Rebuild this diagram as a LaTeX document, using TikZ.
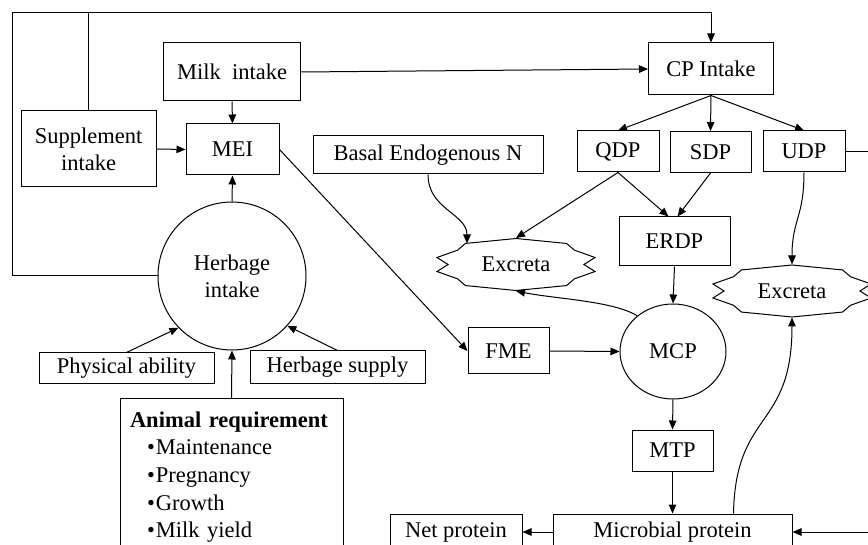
\documentclass[tikz,border=0pt]{standalone}
\usepackage{fontspec}
\setmainfont{Liberation Serif}
\usetikzlibrary{arrows.meta,shapes.geometric}

\begin{document}
\begin{tikzpicture}[x=1pt,y=-1pt,line width=1pt,
    >={Triangle[length=9pt,width=7.5pt]},
    every node/.style={font=\fontsize{22.5}{27}\selectfont},
    blk/.style={draw,inner sep=0pt,align=center},
    exc/.style={inner sep=0pt,minimum width=158,minimum height=52}]
      \useasboundingbox (0,0) rectangle (868,545);
      \clip (0,0) rectangle (868,545);

      \node[blk,minimum width=137,minimum height=58] (milk) at (232,72) {Milk~ intake};
      \node[blk,minimum width=125,minimum height=52] (cp) at (711,69) {CP Intake};
      \node[blk,minimum width=135,minimum height=76] (supp) at (88.5,149) {Supplement\\intake};
      \node[blk,minimum width=93,minimum height=51] (mei) at (232.5,149.5) {MEI};
      \node[draw,circle,minimum size=148,inner sep=0pt,align=center] (herb) at (232,276) {Herbage\\intake};
      \node[blk,minimum width=175,minimum height=31] (phys) at (126.5,368.5) {Physical ability};
      \node[blk,minimum width=175,minimum height=33] (hsup) at (337.5,367.5) {Herbage supply};
      \node[draw,anchor=north,text width=203pt,inner xsep=10pt,inner ysep=13pt,align=left,
        font=\fontsize{22.5}{27.7}\selectfont] (anim) at (231.5,398)
        {\textbf{Animal requirement}\\
         \hspace*{17pt}\textbullet\hspace{1pt}Maintenance\\
         \hspace*{17pt}\textbullet\hspace{1pt}Pregnancy\\
         \hspace*{17pt}\textbullet\hspace{1pt}Growth\\
         \hspace*{17pt}\textbullet\hspace{1pt}Milk yield};

      \node[blk,minimum width=230,minimum height=38] (basal) at (428,155) {Basal Endogenous N};
      \node[blk,minimum width=82,minimum height=41] (qdp) at (618,151.5) {QDP};
      \node[blk,minimum width=81,minimum height=41] (sdp) at (710.5,152) {SDP};
      \node[blk,minimum width=82,minimum height=41] (udp) at (804,151.5) {UDP};
      \node[blk,minimum width=111,minimum height=49] (erdp) at (674.5,241.5) {ERDP};
      \node[exc] (exL) at (516,264.5) {Excreta};
      \node[exc] (exR) at (792,291) {Excreta};
      \node[blk,minimum width=81,minimum height=46] (fme) at (508.5,351) {FME};
      \node[draw,ellipse,minimum width=106,minimum height=95,inner sep=0pt] (mcp) at (673,351.5) {MCP};
      \node[blk,minimum width=81,minimum height=41] (mtp) at (672.5,450.5) {MTP};
      \node[blk,minimum width=239,minimum height=36] (micro) at (672.5,532) {Microbial protein};
      \node[blk,minimum width=132,minimum height=36] (net) at (456,532) {Net protein};

      \foreach \n in {exL,exR}
        \draw[shift={(\n.center)},x=79pt,y=26pt] (0,1) -- (.64,.81) -- (.74,.55) -- (1,.27)
          -- (.86,0) -- (1,-.27) -- (.74,-.55) -- (.64,-.81) -- (0,-1) -- (-.64,-.81)
          -- (-.74,-.55) -- (-1,-.27) -- (-.86,0) -- (-1,.27) -- (-.74,.55) -- (-.64,.81) -- cycle;

      \coordinate (corner) at (12,13);
      \draw[->] (herb.west) -| (corner) -| (cp.north);
      \draw (supp.north) -- (supp.north |- corner);
      \draw[->] (milk.east) -- (cp.west);
      \draw[->] (milk.south) -- (mei.north);
      \draw[->] (supp.east) -- (mei.west);
      \draw[->] (herb.north) -- (mei.south);
      \draw[->] (phys.north) -- (herb.224);
      \draw[->] (hsup.north) -- (herb.318);
      \draw[->] (anim.north) -- (herb.south);
      \draw[->] (mei.east) -- (fme.west);

      \foreach \n in {qdp,sdp,udp}
        \draw[->] (cp.south) -- (\n.north);
      \draw[->] (qdp.south) -- (exL.north);
      \draw[->] (qdp.south) -- ([xshift=-6pt]erdp.north);
      \draw[->] (sdp.south) -- ([xshift=3pt]erdp.north);
      \draw[->] (basal.south) .. controls +(0,35) and +(0,-30) .. ([xshift=-49pt,yshift=21pt]exL.center);
      \draw[->] (mcp.135) .. controls +(-25,-15) and +(40,8) .. (exL.south);
      \draw[->] (udp.south) .. controls +(0,45) and +(0,-45) .. (exR.north);
      \draw[->] ([xshift=61pt]micro.north) .. controls +(2,-104) and +(0,113) .. (exR.south);

      \draw[->] (fme.east) -- (mcp.west);
      \draw[->] (erdp.south) -- (mcp.north);
      \draw[->] (mcp.south) -- (mtp.north);
      \draw[->] (mtp.south) -- (micro.north);
      \draw[->] (micro.west) -- (net.east);
      \draw[->] (udp.east) -- ++(40,0) |- (micro.east);
    \end{tikzpicture}
\end{document}
